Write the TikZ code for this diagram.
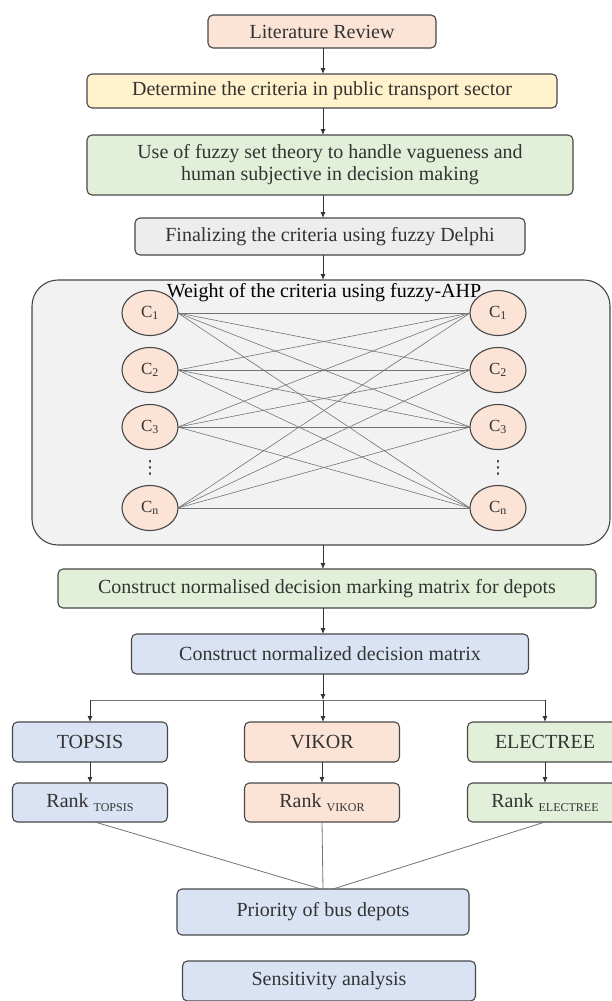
\documentclass[tikz,border=0pt]{standalone}
\usepackage{fontspec}
\setmainfont{Liberation Serif}
\newfontfamily\symfont{DejaVu Sans}
\usetikzlibrary{positioning,shapes.geometric,arrows.meta,calc}

\definecolor{pinkbox}{HTML}{FBE3D6}
\definecolor{yellowbox}{HTML}{FFF2CC}
\definecolor{greenbox}{HTML}{E2F0D9}
\definecolor{graybox}{HTML}{EDEDED}
\definecolor{bluebox}{HTML}{DAE3F3}
\definecolor{panelgray}{HTML}{F2F2F2}
\definecolor{edgegray}{HTML}{474747}

\tikzset{
  stepbox/.style={draw=edgegray, line width=1.1pt, rounded corners=5pt,
    inner sep=2pt, outer sep=0pt, text=black!80, font=\fontsize{20}{22}\selectfont},
  critnode/.style={ellipse, draw=edgegray, line width=1.1pt, fill=pinkbox,
    minimum width=56pt, minimum height=45pt, inner sep=0pt, outer sep=0pt,
    text=black!80, font=\fontsize{17}{17}\selectfont},
  dotsnode/.style={text=black!80, font=\symfont\fontsize{18}{18}\selectfont},
  arr/.style={-{Latex[length=6pt,width=5pt]}, draw=black!80, line width=0.9pt},
  link/.style={draw=black!55, line width=0.6pt},
}
\newcommand{\critlbl}[1]{C\textsubscript{#1}}
\newcommand{\rankof}[1]{Rank \raisebox{-0.45ex}{\fontsize{12}{12}\selectfont #1}}

\begin{document}
\begin{tikzpicture}
   \useasboundingbox (0,0) rectangle (612pt,-1001pt);
   \coordinate (axis) at (323pt,0);
   % main column
   \node (lit) [stepbox, fill=pinkbox, minimum width=228pt, minimum height=33pt]
     at (322pt,-31.5pt) {Literature Review};
   \node (det) [stepbox, fill=yellowbox, minimum width=470pt, minimum height=34pt,
     below=26pt of lit] {Determine the criteria in public transport sector};
   \node (fuzzy) [stepbox, fill=greenbox, minimum width=486pt, minimum height=60pt,
     align=center, below=27pt of det, xshift=8pt]
     {Use of fuzzy set theory to handle vagueness and\\human subjective in decision making};
   \node (fin) [stepbox, fill=graybox, minimum width=390pt, minimum height=37pt,
     below=23pt of fuzzy] {Finalizing the criteria using fuzzy Delphi};
   % fuzzy-AHP panel
   \node (panel) [draw=edgegray, line width=1.1pt, fill=panelgray, rounded corners=26pt,
     outer sep=0pt, minimum width=578pt, minimum height=265pt,
     below=25pt of fin, xshift=-9pt] {};
   \node (ahptitle) [font=\fontsize{20}{22}\selectfont, inner sep=1pt,
     below=2pt of panel.north, xshift=3pt] {Weight of the criteria using fuzzy-AHP};
   \node (l1) [critnode] at ($(panel.north west)+(118pt,-33pt)$) {\critlbl{1}};
   \node (l2) [critnode, below=12pt of l1] {\critlbl{2}};
   \node (l3) [critnode, below=12pt of l2] {\critlbl{3}};
   \node (ln) [critnode, below=36pt of l3] {\critlbl{n}};
   \node (r1) [critnode, right=292pt of l1] {\critlbl{1}};
   \node (r2) [critnode, right=292pt of l2] {\critlbl{2}};
   \node (r3) [critnode, right=292pt of l3] {\critlbl{3}};
   \node (rn) [critnode, right=292pt of ln] {\critlbl{n}};
   \node (ldots) [dotsnode] at ($(l3)!0.5!(ln)$) {⋮};
   \node (rdots) [dotsnode] at ($(r3)!0.5!(rn)$) {⋮};
   \foreach \a in {1,2,3,n}
     \foreach \b in {1,2,3,n}
       \draw[link] (l\a.east) -- (r\b.west);
   % matrices
   \node (norm1) [stepbox, fill=greenbox, minimum width=538pt, minimum height=39pt,
     below=24pt of panel, xshift=6pt] {Construct normalised decision marking matrix for depots};
   \node (norm2) [stepbox, fill=bluebox, minimum width=397pt, minimum height=40pt,
     below=26pt of norm1, xshift=3pt] {Construct normalized decision matrix};
   \coordinate [below=26pt of norm2.south] (split);
   % methods
   \node (vikor) [stepbox, fill=pinkbox, minimum width=155pt, minimum height=40pt,
     below=48pt of norm2, xshift=-8pt] {VIKOR};
   \node (topsis) [stepbox, fill=bluebox, minimum width=155pt, minimum height=40pt,
     left=77pt of vikor] {TOPSIS};
   \node (elec) [stepbox, fill=greenbox, minimum width=155pt, minimum height=40pt,
     right=68pt of vikor] {ELECTREE};
   \node (rtopsis) [stepbox, fill=bluebox, minimum width=155pt, minimum height=39pt,
     below=21pt of topsis] {\rankof{TOPSIS}};
   \node (rvikor) [stepbox, fill=pinkbox, minimum width=155pt, minimum height=39pt,
     below=21pt of vikor] {\rankof{VIKOR}};
   \node (relec) [stepbox, fill=greenbox, minimum width=155pt, minimum height=39pt,
     below=21pt of elec] {\rankof{ELECTREE}};
   \node (prio) [stepbox, fill=bluebox, minimum width=292pt, minimum height=46pt,
     below=67pt of rvikor, xshift=1pt] {Priority of bus depots};
   \node (sens) [stepbox, fill=bluebox, minimum width=293pt, minimum height=40pt,
     below=26pt of prio, xshift=6pt] {Sensitivity analysis};
   % connectors
   \draw[arr] (axis |- lit.south) -- (axis |- det.north);
   \draw[arr] (axis |- det.south) -- (axis |- fuzzy.north);
   \draw[arr] (axis |- fuzzy.south) -- (axis |- fin.north);
   \draw[arr] (axis |- fin.south) -- (axis |- panel.north);
   \draw[arr] (axis |- panel.south) -- (axis |- norm1.north);
   \draw[arr] (axis |- norm1.south) -- (axis |- norm2.north);
   \draw[arr] (axis |- norm2.south) -- (axis |- split);
   \draw[link, line width=0.8pt] (topsis |- split) -- (elec |- split);
   \draw[arr] (topsis |- split) -- (topsis);
   \draw[arr] (axis |- split) -- (axis |- vikor.north);
   \draw[arr] (elec |- split) -- (elec);
   \draw[arr] (topsis) -- (rtopsis);
   \draw[arr] (vikor) -- (rvikor);
   \draw[arr] (elec) -- (relec);
   \draw[link, line width=0.8pt] ([xshift=5pt]rtopsis.south) -- ([xshift=-2pt]prio.north);
   \draw[link, line width=0.8pt] (rvikor.south) -- (prio.north);
   \draw[link, line width=0.8pt] (relec.south) -- ([xshift=10pt]prio.north);
\end{tikzpicture}
\end{document}
